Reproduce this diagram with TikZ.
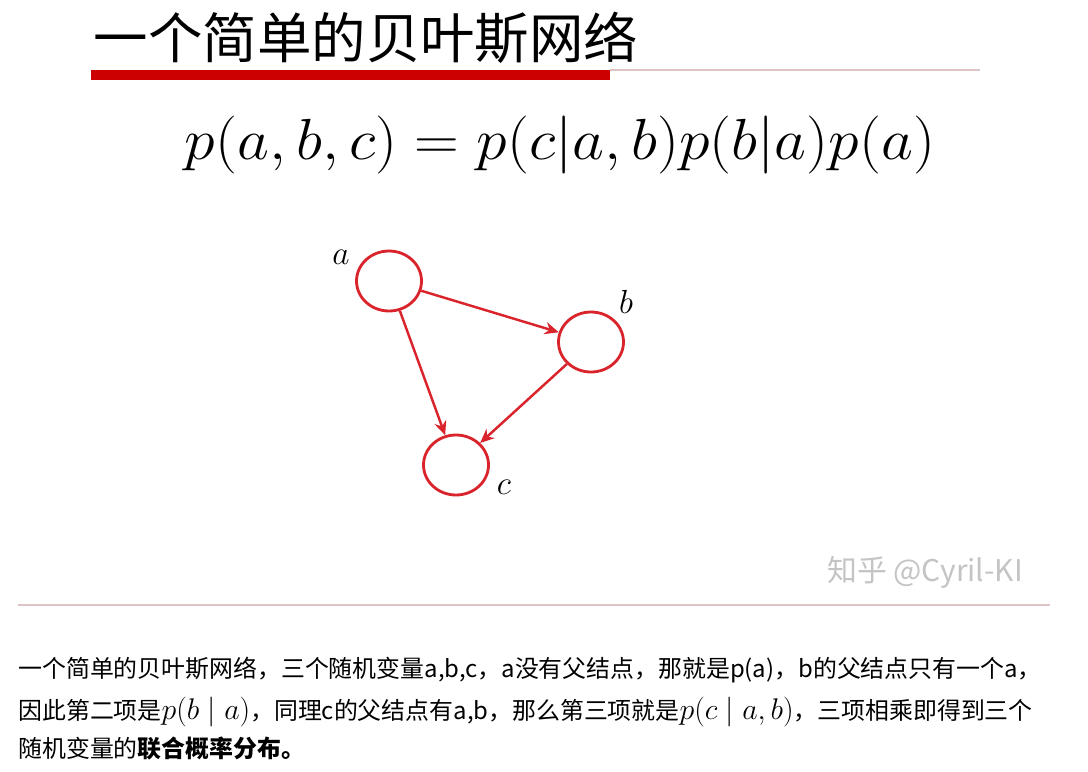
\RequirePackage{fix-cm}
\documentclass[tikz,border=0pt]{standalone}
\usepackage{fontspec}
\usepackage{amsmath}
\newfontfamily\cjk{Noto Sans CJK SC}
\usetikzlibrary{shapes.geometric,arrows.meta}
\definecolor{netred}{RGB}{218,36,44}
\definecolor{barred}{RGB}{204,0,0}
\definecolor{linegray}{RGB}{222,196,196}
\definecolor{markgray}{RGB}{196,196,196}
\tikzset{
  varnode/.style={ellipse, draw=netred, line width=1.6pt, minimum width=1.3cm, minimum height=1.2cm, inner sep=0pt},
  edge/.style={->, netred, line width=1.4pt},
  varlabel/.style={font=\fontsize{19}{19}\selectfont},
  bodytext/.style={anchor=base west, inner sep=0pt, font=\cjk\fontsize{13.6}{16}\selectfont}
}
\begin{document}
\begin{tikzpicture}[x=0.02cm, y=-0.02cm, >={Stealth[length=8pt,width=7pt]}]
				\useasboundingbox[fill=white] (0,0) rectangle (1088,771);
				% 标题
				\node[font=\cjk\fontsize{31}{31}\selectfont] (title) at (366,38) {一个简单的贝叶斯网络};
				\fill[barred] (91,70) rectangle (610,80);
				\draw[linegray, line width=0.8pt] (610,70) -- (980,70);
				
				% 联合概率
				\node[font=\fontsize{33}{33}\selectfont, xscale=1.07] (formula) at (560,145) {$p(a,b,c) = p(c|a,b)p(b|a)p(a)$};
				
				% 三个随机变量
				\node[varnode] (a) at (389,281) {};
				\node[varnode] (b) at (591,342) {};
				\node[varnode] (c) at (456,465) {};
				\node[varlabel] (la) at (341,257) {$a$};
				\node[varlabel] (lb) at (626,302) {$b$};
				\node[varlabel] (lc) at (504,487) {$c$};
				
				% 有向边
				\draw[edge] (a) -- (b);
				\draw[edge] (a) -- (c);
				\draw[edge] (b) -- (c);
				
				% 水印与分隔线
				\node[markgray, font=\cjk\fontsize{17}{17}\selectfont] (mark) at (925,572) {知乎 @Cyril-KI};
				\draw[linegray, line width=0.8pt] (18,605) -- (1050,605);
				
				% 说明文字
				\node[bodytext] (line1) at (18,677) {一个简单的贝叶斯网络，三个随机变量a,b,c，a没有父结点，那就是p(a)，b的父结点只有一个a，};
				\node[bodytext] (line2) at (18,719) {因此第二项是{\fontsize{17}{17}\selectfont$p(b\mid a)$}，同理c的父结点有a,b，那么第三项就是{\fontsize{17}{17}\selectfont$p(c\mid a,b)$}，三项相乘即得到三个};
				\node[bodytext] (line3) at (18,757) {随机变量的\textbf{联合概率分布。}};
\end{tikzpicture}
\end{document}
